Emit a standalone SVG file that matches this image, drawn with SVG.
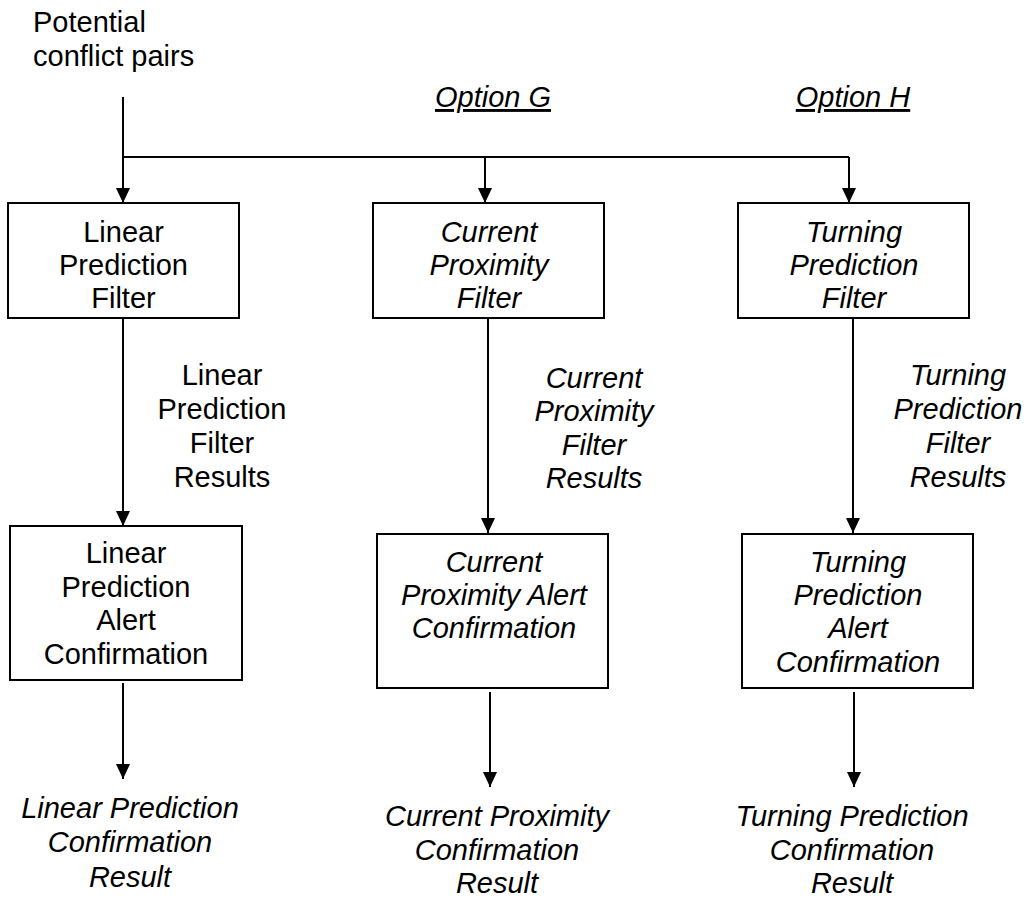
<svg xmlns="http://www.w3.org/2000/svg" width="1027" height="898" viewBox="0 0 1027 898">
<style>
text{font-family:"Liberation Sans",Arial,sans-serif;font-size:29px;fill:#000;text-anchor:middle}
.i{font-style:italic}
.u{text-decoration:underline}
.box{fill:#fff;stroke:#000;stroke-width:2}
.c{stroke:#000;stroke-width:2;fill:none}
.ca{stroke:#000;stroke-width:2;fill:none;marker-end:url(#ah)}
</style>
<defs>
<marker id="ah" markerUnits="userSpaceOnUse" markerWidth="16" markerHeight="16" refX="15" refY="7" orient="auto">
<path d="M0,0 L15,7 L0,14 Z" fill="#000"/>
</marker>
</defs>
<rect width="1027" height="898" fill="#fff"/>
<g id="connectors">
<line class="ca" x1="123" y1="97" x2="123" y2="203"/>
<line class="c" x1="123" y1="157" x2="849" y2="157"/>
<line class="ca" x1="485" y1="157" x2="485" y2="203"/>
<line class="ca" x1="849" y1="157" x2="849" y2="203"/>
<line class="ca" x1="123" y1="318" x2="123" y2="526"/>
<line class="ca" x1="488" y1="318" x2="488" y2="533"/>
<line class="ca" x1="853" y1="318" x2="853" y2="533"/>
<line class="ca" x1="123" y1="683" x2="123" y2="779"/>
<line class="ca" x1="490" y1="692" x2="490" y2="787"/>
<line class="ca" x1="854" y1="692" x2="854" y2="787"/>
</g>
<g id="input">
<text x="33" y="32" style="text-anchor:start">Potential</text>
<text x="33" y="66" style="text-anchor:start">conflict pairs</text>
</g>
<g id="optionG"><text class="i u" x="493" y="107">Option G</text></g>
<g id="optionH"><text class="i u" x="853" y="107">Option H</text></g>
<g id="linearFilter">
<rect class="box" x="8" y="203" width="231" height="115"/>
<text x="123.5" y="242">Linear</text>
<text x="123.5" y="275">Prediction</text>
<text x="123.5" y="308">Filter</text>
</g>
<g id="currentFilter">
<rect class="box" x="373" y="203" width="231" height="115"/>
<text class="i" x="489" y="242">Current</text>
<text class="i" x="489" y="275">Proximity</text>
<text class="i" x="489" y="308">Filter</text>
</g>
<g id="turningFilter">
<rect class="box" x="738" y="203" width="231" height="115"/>
<text class="i" x="854" y="242">Turning</text>
<text class="i" x="854" y="275">Prediction</text>
<text class="i" x="854" y="308">Filter</text>
</g>
<g id="linearResults">
<text x="222" y="385">Linear</text>
<text x="222" y="419">Prediction</text>
<text x="222" y="453">Filter</text>
<text x="222" y="487">Results</text>
</g>
<g id="currentResults">
<text class="i" x="594" y="388">Current</text>
<text class="i" x="594" y="421">Proximity</text>
<text class="i" x="594" y="455">Filter</text>
<text class="i" x="594" y="488">Results</text>
</g>
<g id="turningResults">
<text class="i" x="958" y="385">Turning</text>
<text class="i" x="958" y="419">Prediction</text>
<text class="i" x="958" y="453">Filter</text>
<text class="i" x="958" y="487">Results</text>
</g>
<g id="linearAlert">
<rect class="box" x="10" y="526" width="232" height="154"/>
<text x="126" y="563">Linear</text>
<text x="126" y="597">Prediction</text>
<text x="126" y="630">Alert</text>
<text x="126" y="664">Confirmation</text>
</g>
<g id="currentAlert">
<rect class="box" x="377" y="534" width="231" height="154"/>
<text class="i" x="494" y="572">Current</text>
<text class="i" x="494" y="605">Proximity Alert</text>
<text class="i" x="494" y="638">Confirmation</text>
</g>
<g id="turningAlert">
<rect class="box" x="742" y="534" width="231" height="154"/>
<text class="i" x="858" y="572">Turning</text>
<text class="i" x="858" y="605">Prediction</text>
<text class="i" x="858" y="638">Alert</text>
<text class="i" x="858" y="672">Confirmation</text>
</g>
<g id="linearResult">
<text class="i" x="130" y="818">Linear Prediction</text>
<text class="i" x="130" y="852">Confirmation</text>
<text class="i" x="130" y="887">Result</text>
</g>
<g id="currentResult">
<text class="i" x="497" y="826">Current Proximity</text>
<text class="i" x="497" y="860">Confirmation</text>
<text class="i" x="497" y="893">Result</text>
</g>
<g id="turningResult">
<text class="i" x="852" y="826">Turning Prediction</text>
<text class="i" x="852" y="860">Confirmation</text>
<text class="i" x="852" y="893">Result</text>
</g>
</svg>
